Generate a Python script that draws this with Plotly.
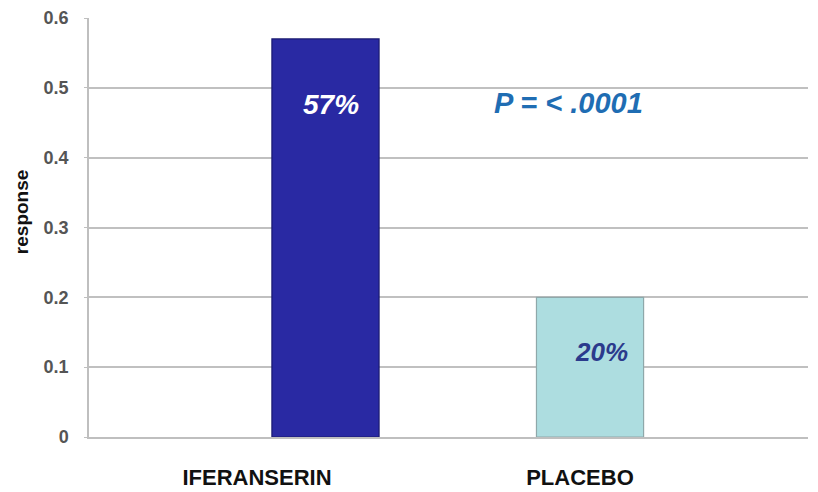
import plotly.graph_objects as go

categories = ["IFERANSERIN", "PLACEBO"]
response = [0.57, 0.20]
bar_labels = ["57%", "20%"]
p_text = "P = < .0001"
y_title = "response"
y_ticks = [0, 0.1, 0.2, 0.3, 0.4, 0.5, 0.6]
y_tick_text = ["0", "0.1", "0.2", "0.3", "0.4", "0.5", "0.6"]

x_pos = list(range(len(categories)))

fig = go.Figure()
fig.add_trace(go.Bar(
    x=x_pos,
    y=response,
    width=0.405,
    marker=dict(
        color=["#2929A3", "#ADDDE0"],
        line=dict(color=["#1A1A70", "#8FA8AA"], width=1.2),
    ),
    showlegend=False,
    hoverinfo="skip",
))

# value labels inside bars
fig.add_annotation(x=x_pos[0] + 0.02, y=0.476, text="<b><i>" + bar_labels[0] + "</i></b>",
                   showarrow=False, font=dict(family="Liberation Sans, Arial", size=28, color="white"))
fig.add_annotation(x=x_pos[1] + 0.045, y=0.122, text="<b><i>" + bar_labels[1] + "</i></b>",
                   showarrow=False, font=dict(family="Liberation Sans, Arial", size=26, color="#2B3A8C"))
fig.add_annotation(x=0.917, y=0.479, text="<b><i>" + p_text + "</i></b>",
                   showarrow=False, font=dict(family="Liberation Sans, Arial", size=29, color="#1F6DB3"))
# y-axis title
fig.add_annotation(xref="paper", yref="paper", x=-0.093, y=0.537, textangle=-90,
                   xanchor="center", yanchor="middle",
                   text="<b>" + y_title + "</b>", showarrow=False,
                   font=dict(family="Liberation Sans, Arial", size=19, color="#111111"))

fig.update_layout(
    width=810,
    height=484,
    margin=dict(l=81, r=10, t=10, b=55, autoexpand=False),
    paper_bgcolor="white",
    plot_bgcolor="white",
    font=dict(family="Liberation Sans, Arial", color="#333333"),
    xaxis=dict(
        range=[-0.894, 1.824],
        tickvals=[-0.259, 0.962],
        ticktext=["<b>" + c + "</b>" for c in categories],
        tickfont=dict(size=22, color="#111111"),
        showgrid=False,
        zeroline=False,
        showline=True,
        linecolor="#BFBFBF",
        linewidth=1.5,
        ticks="",
        ticklabelstandoff=20,
        automargin=False,
    ),
    yaxis=dict(
        range=[0, 0.6],
        tickvals=y_ticks,
        ticktext=["<b>" + t + "</b>" for t in y_tick_text],
        tickfont=dict(size=18, color="#555555"),
        showgrid=True,
        gridcolor="#C0C0C0",
        gridwidth=1.5,
        zeroline=False,
        showline=True,
        linecolor="#BFBFBF",
        linewidth=1.5,
        ticks="outside",
        ticklen=3,
        tickcolor="#BFBFBF",
        ticklabelstandoff=12,
        automargin=False,
    ),
)

fig.write_html("out.html")
